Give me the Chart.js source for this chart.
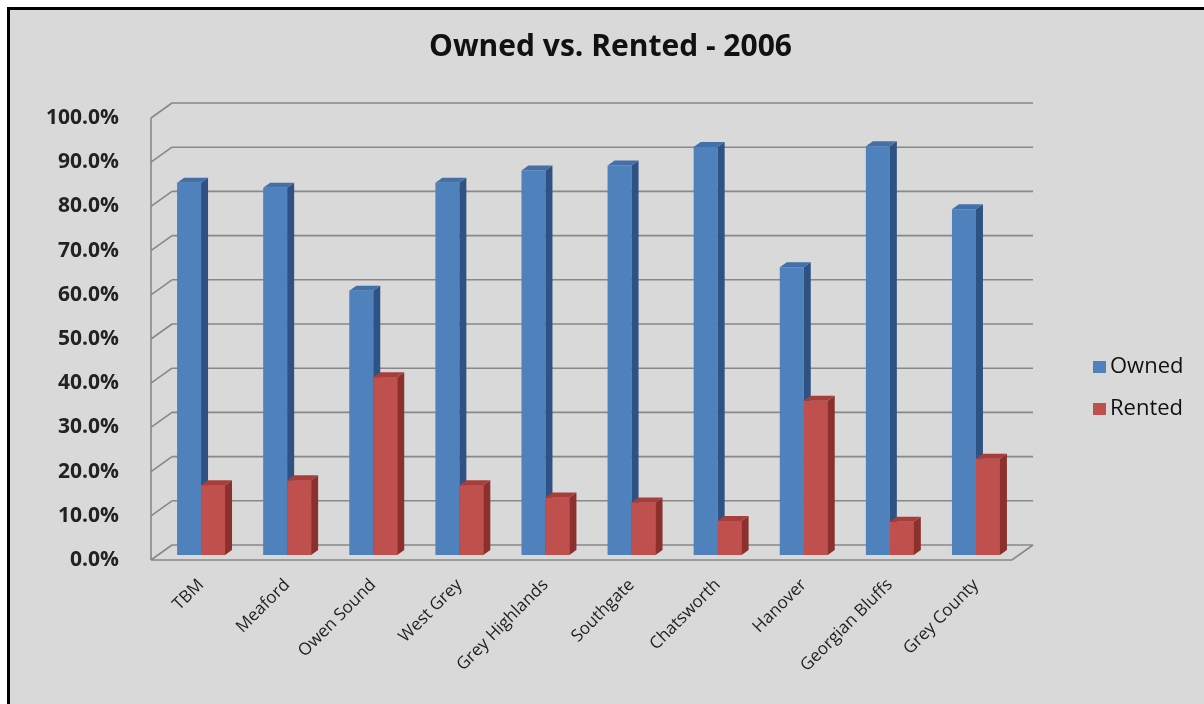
<!DOCTYPE html>
<html>
<head>
<meta charset="utf-8">
<script src="https://cdn.jsdelivr.net/npm/chart.js@4/dist/chart.umd.min.js"></script>
<style>
html,body{margin:0;padding:0;background:#fff;overflow:hidden}
#wrap{width:1204px;height:704px;position:relative}
canvas{display:block}
</style>
</head>
<body>
<div id="wrap"><canvas id="c" width="1204" height="704"></canvas></div>
<script>
// ---- data ----
const categories = ['TBM', 'Meaford', 'Owen Sound', 'West Grey', 'Grey Highlands', 'Southgate', 'Chatsworth', 'Hanover', 'Georgian Bluffs', 'Grey County'];
const owned = [84.2, 83.1, 59.8, 84.2, 87.0, 88.1, 92.3, 65.1, 92.5, 78.2];
const rented = [15.8, 16.9, 40.2, 15.8, 13.0, 11.9, 7.7, 34.9, 7.5, 21.8];
const seriesNames = ['Owned', 'Rented'];
const yTickValues = [0, 10, 20, 30, 40, 50, 60, 70, 80, 90, 100];
const titleText = 'Owned vs. Rented - 2006';

// ---- style ----
const FONT = '"Open Sans", "Noto Sans", sans-serif';
const frontColors = ['#4f81bd', '#c0504d'];
const sideColors = ['#2e5283', '#8c302d'];
const topColors = ['#4370a8', '#a63f3c'];
const GRID = '#888888';
const BACK = {dx: 14, dy: -10};   // bar plane -> back wall
const FRONT = {dx: -7, dy: 5};    // bar plane -> front edge
const BAR = {dx: 7, dy: -5};      // bar depth

function poly(ctx, pts, fill) {
  ctx.beginPath();
  ctx.moveTo(pts[0][0], pts[0][1]);
  for (let i = 1; i < pts.length; i++) ctx.lineTo(pts[i][0], pts[i][1]);
  ctx.closePath();
  ctx.fillStyle = fill;
  ctx.fill();
}

const frame3d = {
  id: 'frame3d',
  beforeDraw(chart) {
    const ctx = chart.ctx, W = chart.width, H = chart.height;
    ctx.save();
    ctx.fillStyle = '#ffffff';
    ctx.fillRect(0, 0, W, H);
    ctx.fillStyle = '#d9d9d9';
    ctx.fillRect(8, 8, W - 8, H - 8);
    ctx.fillStyle = '#000000';
    ctx.fillRect(7, 7, W - 7, 3);
    ctx.fillRect(7, 7, 3, H - 7);
    ctx.restore();
  },
  beforeDatasetsDraw(chart) {
    const ctx = chart.ctx, ys = chart.scales.y, a = chart.chartArea;
    const bl = a.left + BACK.dx, br = a.right + BACK.dx;
    const fl = a.left + FRONT.dx, fr = a.right + FRONT.dx;
    ctx.save();
    ctx.strokeStyle = GRID;
    ctx.lineWidth = 1.6;
    ctx.beginPath();
    yTickValues.forEach(v => {
      const py = ys.getPixelForValue(v);
      ctx.moveTo(bl, py + BACK.dy); ctx.lineTo(br, py + BACK.dy);
      ctx.moveTo(fl, py + FRONT.dy); ctx.lineTo(bl, py + BACK.dy);
    });
    const top = ys.getPixelForValue(yTickValues[yTickValues.length - 1]);
    const zero = ys.getPixelForValue(0);
    ctx.moveTo(fl, top + FRONT.dy); ctx.lineTo(fl, zero + FRONT.dy);
    ctx.moveTo(fl, zero + FRONT.dy); ctx.lineTo(fr, zero + FRONT.dy); ctx.lineTo(br, zero + BACK.dy);
    ctx.stroke();
    ctx.restore();
  },
  afterDatasetsDraw(chart) {
    const ctx = chart.ctx;
    const metas = [chart.getDatasetMeta(0), chart.getDatasetMeta(1)];
    ctx.save();
    for (let i = 0; i < categories.length; i++) {
      metas.forEach((m, s) => {
        const el = m.data[i];
        if (!el) return;
        const p = el.getProps(['x', 'y', 'base', 'width'], true);
        const l = p.x - p.width / 2, r = p.x + p.width / 2;
        if (s > 0) {
          ctx.fillStyle = frontColors[s];
          ctx.fillRect(l, p.y, r - l, p.base - p.y);
        }
        poly(ctx, [[r, p.y], [r + BAR.dx, p.y + BAR.dy], [r + BAR.dx, p.base + BAR.dy], [r, p.base]], sideColors[s]);
        poly(ctx, [[l, p.y], [l + BAR.dx, p.y + BAR.dy], [r + BAR.dx, p.y + BAR.dy], [r, p.y]], topColors[s]);
      });
    }
    ctx.restore();
  },
  afterDraw(chart) {
    const ctx = chart.ctx;
    const rows = [367, 409];
    ctx.save();
    ctx.font = '22px ' + FONT;
    ctx.textBaseline = 'middle';
    ctx.textAlign = 'left';
    seriesNames.forEach((n, s) => {
      ctx.fillStyle = frontColors[s];
      ctx.fillRect(1093, rows[s] - 6, 13, 12);
      ctx.fillStyle = '#111111';
      ctx.fillText(n, 1110, rows[s]);
    });
    ctx.restore();
  }
};

new Chart(document.getElementById('c'), {
  type: 'bar',
  data: {
    labels: categories,
    datasets: [
      {label: seriesNames[0], data: owned, backgroundColor: frontColors[0], borderWidth: 0},
      {label: seriesNames[1], data: rented, backgroundColor: frontColors[1], borderWidth: 0}
    ]
  },
  options: {
    responsive: false,
    animation: false,
    events: [],
    devicePixelRatio: 1,
    datasets: {bar: {categoryPercentage: 0.557, barPercentage: 1.0}},
    layout: {padding: {left: 17, top: 0, right: 0, bottom: 0}},
    plugins: {
      legend: {display: false},
      tooltip: {enabled: false},
      title: {
        display: true,
        text: titleText,
        color: '#111111',
        font: {family: FONT, size: 30, weight: 'bold', lineHeight: 1.2},
        padding: {top: 29, bottom: 48}
      }
    },
    scales: {
      x: {
        grid: {display: false},
        border: {display: false},
        ticks: {
          autoSkip: false, minRotation: 45, maxRotation: 45,
          font: {family: FONT, size: 17}, color: '#1e1e1e', padding: 12
        },
        afterFit: s => { s.height = 149; }
      },
      y: {
        min: 0, max: 100,
        afterBuildTicks: s => { s.ticks = yTickValues.map(v => ({value: v})); },
        grid: {display: false},
        border: {display: false},
        ticks: {
          callback: v => Number(v).toFixed(1) + '%',
          font: {family: FONT, size: 21, weight: 'bold'},
          color: '#222222', padding: 31, labelOffset: 5
        },
        afterFit: s => { s.width = 141; }
      },
      y2: {
        position: 'right',
        display: true,
        grid: {display: false},
        border: {display: false},
        ticks: {display: false},
        afterFit: s => { s.width = 185; }
      }
    }
  },
  plugins: [frame3d]
});
</script>
</body>
</html>
